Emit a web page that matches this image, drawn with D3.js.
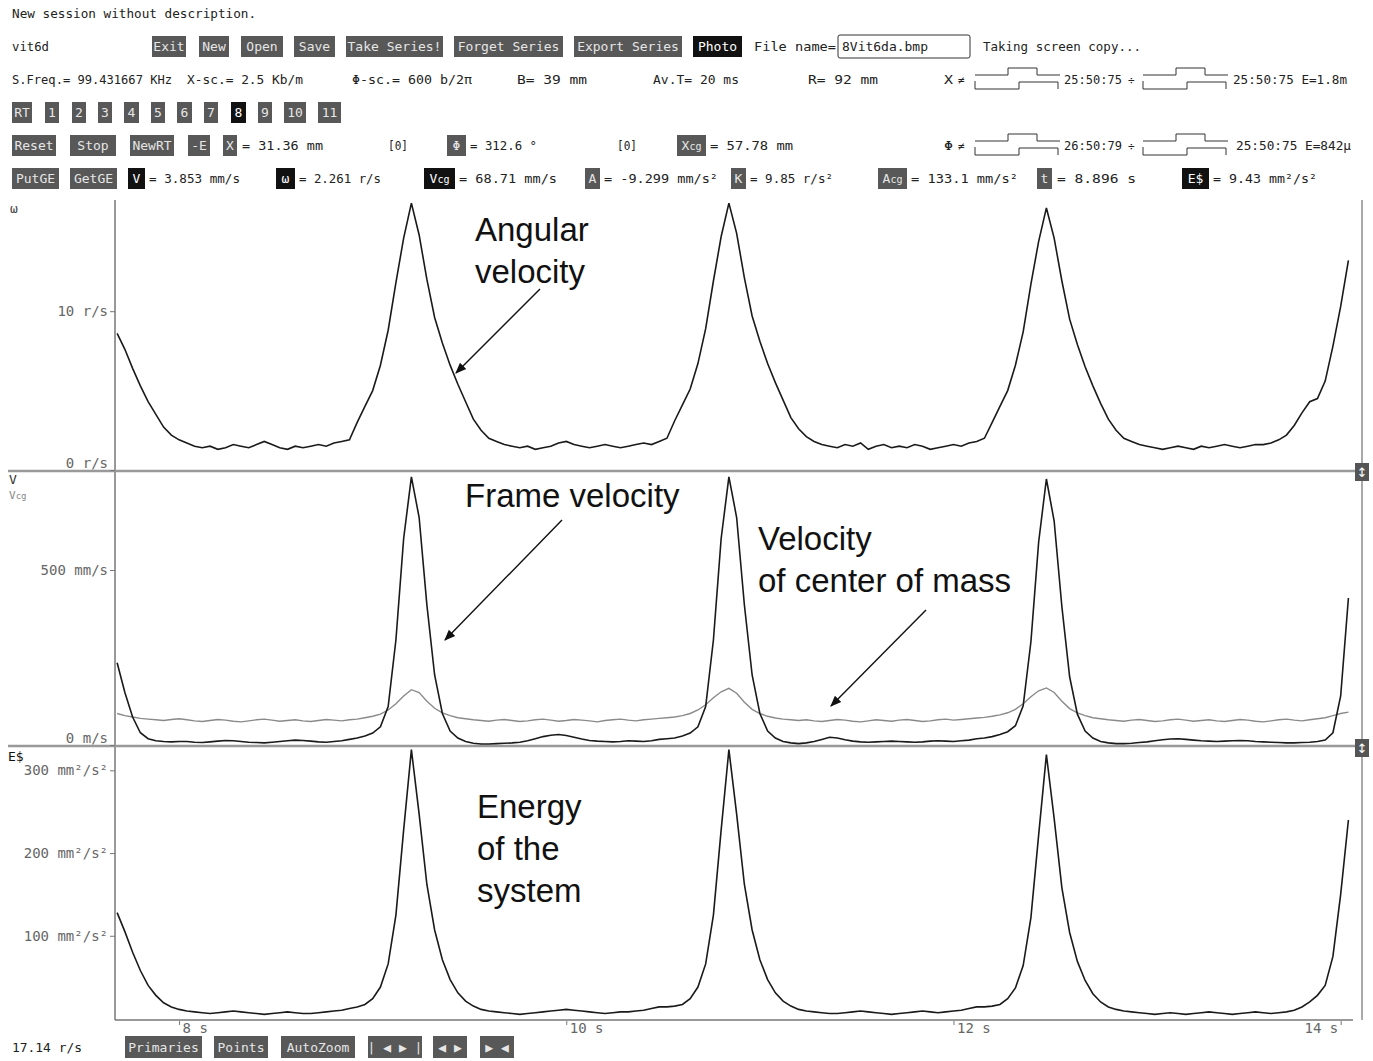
<!DOCTYPE html>
<html>
<head>
<meta charset="utf-8">
<script src="https://cdn.jsdelivr.net/npm/d3@7"></script>
<style>
  body { margin: 0; background: #fff; }
  svg { display: block; font-family: "DejaVu Sans Mono", monospace; }
</style>
</head>
<body>
<div id="chart"></div>
<script>
// recorder clock: first sample time and sample period (s)
var sampleStart = 7.68, sampleStep = 0.04;

// angular velocity, r/s
var omega = [8.6, 7.6, 6.4, 5.3, 4.3, 3.5, 2.7, 2.2, 1.9,
  1.7, 1.5, 1.4, 1.5, 1.3, 1.4, 1.6, 1.5, 1.4, 1.6, 1.8, 1.6, 1.4, 1.3, 1.5, 1.4, 1.5, 1.6, 1.5, 1.7, 1.8,
  1.9, 3.0, 4.0, 5.0, 6.6, 8.8, 11.8, 14.6, 16.8, 14.8, 12.0, 9.6, 8.0, 6.6, 5.4, 4.3, 3.2, 2.5, 2.0, 1.8, 1.6,
  1.5, 1.4, 1.5, 1.3, 1.4, 1.5, 1.7, 1.8, 1.6, 1.5, 1.4, 1.5, 1.6, 1.5, 1.4, 1.5, 1.6, 1.7, 1.6, 1.8,
  2.0, 3.1, 4.1, 5.1, 6.7, 8.9, 11.9, 14.7, 16.8, 14.9, 12.1, 9.7, 8.1, 6.7, 5.5, 4.4, 3.3, 2.6, 2.1, 1.8, 1.6,
  1.5, 1.4, 1.6, 1.5, 1.7, 1.3, 1.5, 1.6, 1.4, 1.5, 1.4, 1.6, 1.5, 1.3, 1.4, 1.5, 1.6, 1.5, 1.7, 1.8,
  2.0, 3.0, 4.0, 5.0, 6.6, 8.7, 11.7, 14.4, 16.5, 14.6, 11.9, 9.5, 7.9, 6.5, 5.3, 4.2, 3.2, 2.5, 2.0, 1.8, 1.6,
  1.5, 1.4, 1.3, 1.4, 1.5, 1.4, 1.3, 1.5, 1.4, 1.5, 1.6, 1.5, 1.4, 1.5, 1.6,
  1.6, 1.7, 1.9, 2.2, 2.8, 3.6, 4.3, 4.5, 5.6, 7.8, 10.3, 13.2];

// frame velocity V, mm/s
var frameV = [235, 150, 80, 35, 18, 12, 10, 9, 10,
  10, 8, 7, 9, 11, 13, 12, 10, 8, 7, 6, 8, 10, 12, 14, 13, 11, 9, 8, 10, 12, 16,
  20, 26, 34, 52, 110, 300, 590, 766, 650, 400, 200, 90, 40, 20, 10, 5, 3,
  3, 4, 5, 6, 8, 12, 18, 24, 28, 30, 27, 22, 17, 13, 11, 10, 9, 10, 12, 11, 10, 12, 16,
  18, 20, 26, 34, 52, 110, 300, 590, 766, 650, 400, 200, 90, 40, 20, 10, 6, 4,
  6, 10, 16, 22, 20, 15, 11, 9, 8, 9, 10, 11, 10, 9, 8, 9, 11, 12, 11, 10, 12, 14, 18,
  20, 24, 30, 38, 55, 112, 295, 580, 760, 640, 395, 195, 88, 40, 20, 10, 6, 4,
  4, 5, 7, 9, 12, 15, 17, 18, 16, 14, 12, 11, 10, 11, 12, 13, 12, 10, 9, 8, 7, 6, 6, 7, 8, 10, 14,
  35, 140, 420];

// velocity of centre of mass Vcg, mm/s
var cgV = [90, 84, 80, 76, 74, 72, 70, 73, 75, 72, 69, 67, 70, 73, 71, 68, 66, 69, 72, 74, 71, 68, 70, 72, 69, 67, 70, 73, 71, 69, 72,
  74, 78, 82, 88, 100, 118, 140, 158, 150, 125, 105, 92, 84, 78, 75, 72,
  70, 68, 71, 73, 70, 67, 69, 72, 74, 71, 68, 70, 73, 71, 69, 66, 70, 72, 74, 71, 69, 72, 74, 76,
  78, 80, 84, 90, 100, 115, 135, 152, 162, 148, 122, 102, 90, 82, 77, 74, 72,
  70, 72, 69, 67, 70, 73, 71, 68, 66, 69, 72, 70, 68, 71, 73, 70, 67, 69, 72, 74, 71, 73, 75, 77,
  79, 82, 86, 92, 102, 118, 138, 155, 163, 150, 125, 104, 92, 84, 78, 75, 72,
  70, 68, 71, 73, 70, 67, 69, 72, 74, 71, 68, 70, 72, 69, 67, 70, 73, 71, 68, 66, 69, 72, 74, 71, 69, 72, 75, 78, 84, 90, 94];

// energy of the system E$, mm2/s2
var energy = [128, 105, 80, 58, 40, 28, 19, 14, 11,
  9, 8, 7, 6, 7, 8, 9, 8, 7, 6, 5, 6, 7, 8, 7, 6, 6, 7, 8, 9, 10, 12, 14,
  17, 24, 38, 66, 125, 228, 325, 247, 162, 107, 71, 47, 31, 21, 15, 11, 9,
  8, 7, 6, 5, 6, 7, 8, 9, 10, 11, 10, 9, 8, 7, 6, 7, 8, 8, 9, 10, 12, 14,
  14, 15, 17, 24, 38, 66, 125, 228, 325, 247, 162, 107, 71, 47, 31, 21, 15, 11, 9,
  8, 7, 6, 6, 7, 8, 9, 8, 7, 6, 5, 6, 7, 8, 9, 8, 7, 8, 9, 10, 12, 14,
  14, 15, 17, 24, 37, 64, 122, 222, 319, 242, 158, 104, 69, 46, 30, 20, 14, 11, 9,
  8, 7, 6, 5, 6, 7, 6, 5, 6, 7, 8, 7, 6, 5, 6, 7, 8, 7, 6, 7, 8,
  10, 14, 20, 28, 40, 75, 150, 240];

var xTicks = [8, 10, 12, 14];
var xTickLabels = ["8 s", "10 s", "12 s", "14 s"];
var omegaTicks = [0, 10];
var omegaTickLabels = ["0 r/s", "10 r/s"];
var velTicks = [0, 500];
var velTickLabels = ["0 m/s", "500 mm/s"];
var energyTicks = [100, 200, 300];
var energyTickLabels = ["100 mm\u00b2/s\u00b2", "200 mm\u00b2/s\u00b2", "300 mm\u00b2/s\u00b2"];

var svg = d3.select("#chart").append("svg")
  .attr("width", 1373)
  .attr("height", 1061);

function label(x, y, s, o) {
  o = o || {};
  var t = svg.append("text")
    .attr("x", x)
    .attr("y", y)
    .attr("font-size", o.size || 13)
    .attr("fill", o.fill || "#222")
    .attr("text-anchor", o.anchor || "start")
    .text(s);
  if (o.w) t.attr("textLength", o.w).attr("lengthAdjust", "spacingAndGlyphs");
  return t;
}

function button(x, w, y, h, s, dark) {
  svg.append("rect")
    .attr("x", x).attr("y", y)
    .attr("width", w).attr("height", h)
    .attr("fill", dark ? "#111" : "#585858");
  var t = label(x + w / 2, y + h / 2 + 4.5, "", { anchor: "middle", fill: dark ? "#fff" : "#e6e6e6" });
  // "cg" subscript names
  if (/cg$/.test(s)) {
    t.append("tspan").text(s.slice(0, -2));
    t.append("tspan").attr("font-size", 10).text("cg");
  } else {
    t.text(s);
  }
}

function wave(x0, yc) {
  svg.append("path")
    .attr("d", "M" + x0 + "," + (yc - 4) + "H" + (x0 + 33) + "V" + (yc - 11) + "H" + (x0 + 62) + "V" + (yc - 4) + "H" + (x0 + 85))
    .attr("fill", "none").attr("stroke", "#333");
  svg.append("path")
    .attr("d", "M" + x0 + "," + (yc + 2) + "V" + (yc + 10) + "H" + (x0 + 44) + "V" + (yc + 3) + "H" + (x0 + 83) + "V" + (yc + 10))
    .attr("fill", "none").attr("stroke", "#333");
}

// ---- header ----
label(12, 18, "New session without description.", { w: 244 });

label(12, 51, "vit6d", { w: 37 });
[["Exit", 152, 34], ["New", 199, 30], ["Open", 241, 42], ["Save", 294, 41],
 ["Take Series!", 346, 97], ["Forget Series", 454, 109], ["Export Series", 574, 108],
 ["Photo", 693, 49, true]].forEach(function (b) { button(b[1], b[2], 36, 21, b[0], b[3]); });
label(754, 51, "File name=", { w: 82 });
svg.append("rect").attr("x", 838).attr("y", 35).attr("width", 132).attr("height", 23)
  .attr("rx", 2).attr("fill", "#fff").attr("stroke", "#333");
label(842, 51, "8Vit6da.bmp", { w: 86 });
label(983, 51, "Taking screen copy...", { w: 158 });

[[12, "S.Freq.= 99.431667 KHz", 160], [187, "X-sc.= 2.5 Kb/m", 116], [352, "\u03a6-sc.= 600 b/2\u03c0", 120],
 [517, "B= 39 mm", 70], [653, "Av.T= 20 ms", 86], [808, "R= 92 mm", 70], [944, "X", 9],
 [1064, "25:50:75", 58], [1233, "25:50:75 E=1.8m", 114]]
  .forEach(function (d) { label(d[0], 84, d[1], { w: d[2] }); });
label(958, 84, "\u2260", { size: 11 });
label(1128, 84, "\u00f7", { size: 11 });
wave(975, 79);
wave(1143, 79);

[["RT", 12, 20], ["1", 45, 14], ["2", 72, 14], ["3", 98, 14], ["4", 124, 15], ["5", 151, 14],
 ["6", 177, 15], ["7", 204, 14], ["8", 231, 15, true], ["9", 258, 14], ["10", 284, 22], ["11", 318, 23]]
  .forEach(function (b) { button(b[1], b[2], 102, 21, b[0], b[3]); });

[["Reset", 12, 44], ["Stop", 70, 46], ["NewRT", 130, 44], ["-E", 188, 22], ["X", 223, 14],
 ["\u03a6", 447, 19], ["Xcg", 677, 29]].forEach(function (b) { button(b[1], b[2], 135, 21, b[0], b[3]); });
[[242, "= 31.36 mm", 81], [388, "[0]", 20], [470, "= 312.6 \u00b0", 67], [617, "[0]", 20], [710, "= 57.78 mm", 83],
 [944, "\u03a6", 9], [1064, "26:50:79", 58], [1236, "25:50:75 E=842\u00b5", 115]]
  .forEach(function (d) { label(d[0], 150, d[1], { w: d[2] }); });
label(958, 150, "\u2260", { size: 11 });
label(1128, 150, "\u00f7", { size: 11 });
wave(975, 145);
wave(1143, 145);

[["PutGE", 12, 47], ["GetGE", 70, 47], ["V", 128, 17, true], ["\u03c9", 276, 19, true],
 ["Vcg", 424, 31, true], ["A", 585, 15], ["K", 731, 15], ["Acg", 878, 29], ["t", 1037, 15],
 ["E$", 1182, 27, true]].forEach(function (b) { button(b[1], b[2], 168, 21, b[0], b[3]); });
[[149, "= 3.853 mm/s", 91], [299, "= 2.261 r/s", 82], [459, "= 68.71 mm/s", 98], [604, "= -9.299 mm/s\u00b2", 114],
 [750, "= 9.85 r/s\u00b2", 83], [911, "= 133.1 mm/s\u00b2", 107], [1057, "= 8.896 s", 79], [1213, "= 9.43 mm\u00b2/s\u00b2", 104]]
  .forEach(function (d) { label(d[0], 183, d[1], { w: d[2] }); });

// ---- footer ----
label(12, 1052, "17.14 r/s", { w: 70 });
[["Primaries", 125, 77], ["Points", 214, 54], ["AutoZoom", 281, 74],
 ["| \u25c0 \u25b6 |", 368, 54], ["\u25c0 \u25b6", 433, 34], ["\u25b6 \u25c0", 480, 34]]
  .forEach(function (b) { button(b[1], b[2], 1036, 22, b[0]); });

// ---- scales ----
var x = d3.scaleLinear().domain([7.669, 14.105]).range([115, 1361]);
var yOmega = d3.scaleLinear().domain([0, 17]).range([470, 200]);
var yVel = d3.scaleLinear().domain([0, 780]).range([745, 472]);
var yEnergy = d3.scaleLinear().domain([0, 327]).range([1018.5, 748]);

// ---- frame ----
svg.append("line").attr("x1", 115).attr("x2", 115).attr("y1", 200).attr("y2", 1020)
  .attr("stroke", "#777").attr("stroke-width", 1.5);
svg.append("line").attr("x1", 115).attr("x2", 1353).attr("y1", 1020).attr("y2", 1020)
  .attr("stroke", "#777").attr("stroke-width", 1.5);
[471, 746].forEach(function (y) {
  svg.append("line").attr("x1", 8).attr("x2", 1355).attr("y1", y).attr("y2", y)
    .attr("stroke", "#999").attr("stroke-width", 2.5);
});
svg.append("line").attr("x1", 1362).attr("x2", 1362).attr("y1", 200).attr("y2", 1020)
  .attr("stroke", "#aaa").attr("stroke-width", 2);
[463, 739].forEach(function (y) {
  svg.append("rect").attr("x", 1355).attr("y", y).attr("width", 14).attr("height", 18).attr("fill", "#555");
  svg.append("text").attr("x", 1362).attr("y", y + 14).attr("text-anchor", "middle")
    .attr("font-size", 13).attr("fill", "#fff").attr("font-family", "DejaVu Sans").text("\u2195");
});

// ---- axes ----
function yAxis(scale, ticks, labels) {
  var g = svg.append("g")
    .attr("transform", "translate(115,0)")
    .call(d3.axisLeft(scale).tickValues(ticks).tickSize(5).tickPadding(2)
      .tickFormat(function (d, i) { return labels[i]; }));
  g.attr("font-size", 14).attr("font-family", '"DejaVu Sans Mono", monospace');
  g.select(".domain").remove();
  g.selectAll("line").attr("stroke", "#777");
  g.selectAll("text").attr("fill", "#666");
  g.selectAll(".tick").filter(function (d) { return d === 0; }).select("text").attr("dy", "-0.2em");
}
yAxis(yOmega, omegaTicks, omegaTickLabels);
yAxis(yVel, velTicks, velTickLabels);
yAxis(yEnergy, energyTicks, energyTickLabels);

var gx = svg.append("g")
  .attr("transform", "translate(0,1020)")
  .call(d3.axisBottom(x).tickValues(xTicks).tickSize(5)
    .tickFormat(function (d, i) { return xTickLabels[i]; }));
gx.attr("font-size", 14).attr("font-family", '"DejaVu Sans Mono", monospace');
gx.select(".domain").remove();
gx.selectAll("line").attr("stroke", "#777").attr("y1", 1);
gx.selectAll("text").attr("fill", "#666").attr("y", 2).attr("dy", "0.75em")
  .attr("text-anchor", "start").attr("x", 3);
gx.selectAll(".tick").filter(function (d) { return d === 14; }).select("text")
  .attr("text-anchor", "end").attr("x", -3);

// panel names
label(10, 213, "\u03c9", { fill: "#444" });
label(9, 484, "V", { fill: "#333" });
var vcgName = label(9, 499, "", { size: 11, fill: "#888" });
vcgName.append("tspan").text("V");
vcgName.append("tspan").attr("font-size", 9).text("cg");
label(8, 761, "E$", { fill: "#111" });

// ---- traces ----
function trace(values, y) {
  return d3.line()
    .x(function (d, i) { return x(sampleStart + i * sampleStep); })
    .y(function (d) { return y(d); })(values);
}
svg.append("path").attr("d", trace(omega, yOmega))
  .attr("fill", "none").attr("stroke", "#1a1a1a").attr("stroke-width", 1.6);
svg.append("path").attr("d", trace(cgV, yVel))
  .attr("fill", "none").attr("stroke", "#8a8a8a").attr("stroke-width", 1.4);
svg.append("path").attr("d", trace(frameV, yVel))
  .attr("fill", "none").attr("stroke", "#1a1a1a").attr("stroke-width", 1.6);
svg.append("path").attr("d", trace(energy, yEnergy))
  .attr("fill", "none").attr("stroke", "#1a1a1a").attr("stroke-width", 1.6);

// ---- annotations ----
svg.append("defs").append("marker")
  .attr("id", "head")
  .attr("viewBox", "0 0 10 10")
  .attr("refX", 9).attr("refY", 5)
  .attr("markerWidth", 8).attr("markerHeight", 8)
  .attr("orient", "auto")
  .append("path").attr("d", "M0,1L10,5L0,9Z").attr("fill", "#111");

function note(x0, y0, lines) {
  lines.forEach(function (s, i) {
    svg.append("text").attr("x", x0).attr("y", y0 + i * 42)
      .attr("font-family", '"Liberation Sans", Arial, sans-serif')
      .attr("font-size", 33).attr("fill", "#111").text(s);
  });
}
note(475, 241, ["Angular", "velocity"]);
note(465, 507, ["Frame velocity"]);
note(758, 550, ["Velocity", "of center of mass"]);
note(477, 818, ["Energy", "of the", "system"]);

[[540, 289, 456, 373], [562, 520, 445, 640], [926, 610, 831, 706]].forEach(function (a) {
  svg.append("line").attr("x1", a[0]).attr("y1", a[1]).attr("x2", a[2]).attr("y2", a[3])
    .attr("stroke", "#111").attr("stroke-width", 1.4).attr("marker-end", "url(#head)");
});
</script>
</body>
</html>
